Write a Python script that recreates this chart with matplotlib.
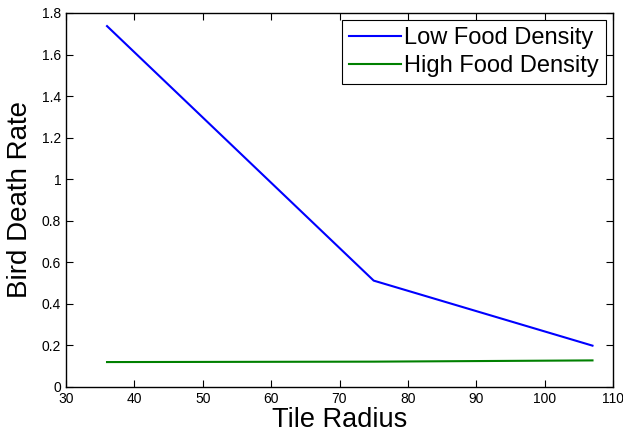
import matplotlib
matplotlib.use("Agg")
import matplotlib.pyplot as plt
import numpy as np

plt.rcParams["font.family"] = ["Liberation Sans", "DejaVu Sans"]

# Bird death rate against tile radius for two food densities
tile_radius = [36, 75, 107]
low_food = [1.737, 0.512, 0.199]
high_food = [0.12, 0.122, 0.128]

fig = plt.figure(figsize=(6.23, 4.37), dpi=100)
ax = fig.add_axes([66 / 623, 1 - 387 / 437, (613 - 66) / 623, (387 - 13) / 437])

ax.plot(tile_radius, low_food, color=(0, 0, 1), linewidth=1.5, label="Low Food Density")
ax.plot(tile_radius, high_food, color=(0, 0.5, 0), linewidth=1.5, label="High Food Density")

ax.set_xlim(30, 110)
ax.set_ylim(0, 1.8)
ax.set_xticks(np.arange(30, 111, 10))
yt = np.round(np.arange(0, 1.81, 0.2), 1)
ax.set_yticks(yt)
ax.set_yticklabels(["%g" % v for v in yt])
ax.tick_params(direction="in", top=True, right=True, labelsize=10, length=5, width=0.8)
for s in ax.spines.values():
    s.set_linewidth(1.0)

ax.set_xlabel("Tile Radius", fontsize=19.5, labelpad=1)
ax.set_ylabel("Bird Death Rate", fontsize=20, labelpad=6)

leg = ax.legend(loc="upper right", fontsize=17, fancybox=False, framealpha=1,
                edgecolor="black", borderpad=0.3, labelspacing=0.25,
                handlelength=2.2, handletextpad=0.15, borderaxespad=0.3)
leg.get_frame().set_linewidth(0.8)

fig.savefig("out.png", dpi=100)
